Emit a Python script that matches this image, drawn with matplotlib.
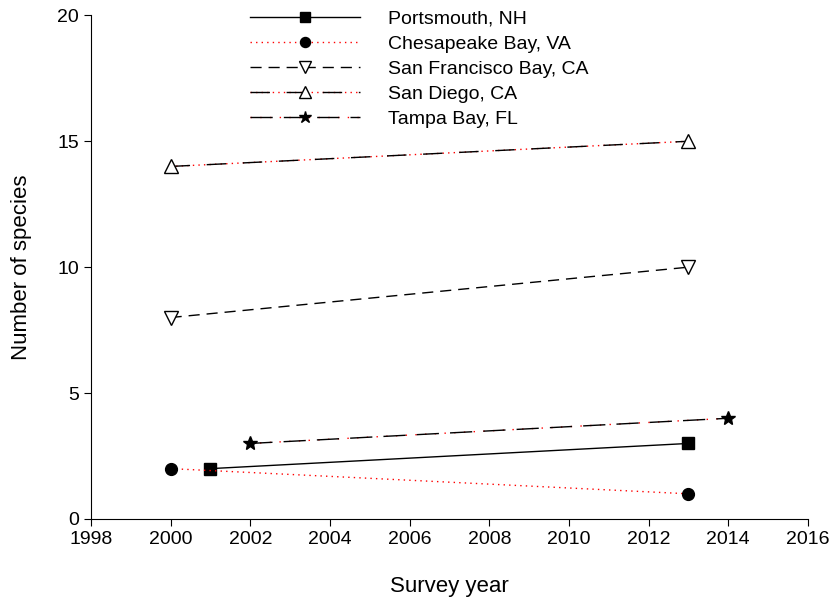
import matplotlib
matplotlib.use("Agg")
import matplotlib.pyplot as plt

plt.rcParams['font.family'] = ['Liberation Sans', 'DejaVu Sans']

portsmouth_years = [2001, 2013]
portsmouth_vals = [2, 3]
chesapeake_years = [2000, 2013]
chesapeake_vals = [2, 1]
sanfran_years = [2000, 2013]
sanfran_vals = [8, 10]
sandiego_years = [2000, 2013]
sandiego_vals = [14, 15]
tampa_years = [2002, 2014]
tampa_vals = [3, 4]

fig = plt.figure(figsize=(8.33, 6.09), dpi=100)
ax = fig.add_axes([0.1092, 0.1478, 0.8607, 0.827])

ms = 8.5
# Portsmouth: solid black, filled squares
h1, = ax.plot(portsmouth_years, portsmouth_vals, color='black', lw=1.0, marker='s',
              ms=ms, mfc='black', mec='black', zorder=3)
# Chesapeake: red dotted, filled circles
h2, = ax.plot(chesapeake_years, chesapeake_vals, color='red', lw=1.0, ls=(0, (1, 3)),
              marker='o', ms=ms, mfc='black', mec='black', zorder=3)
# San Francisco: dashed, open down triangles
h3, = ax.plot(sanfran_years, sanfran_vals, color='black', lw=1.0, ls=(0, (8, 5)),
              marker='v', ms=ms + 1, mfc='white', mec='black', zorder=3)
# San Diego: dash with red dots, open up triangles
h4a, = ax.plot(sandiego_years, sandiego_vals, color='red', lw=1.0, ls=(0, (1, 3)), zorder=2)
h4b, = ax.plot(sandiego_years, sandiego_vals, color='black', lw=1.0, ls=(0, (14, 12)),
               marker='^', ms=ms + 1, mfc='white', mec='black', zorder=3)
# Tampa: long dash with red dots, stars
h5a, = ax.plot(tampa_years, tampa_vals, color='red', lw=1.0, ls=(0, (1, 6)), zorder=2)
h5b, = ax.plot(tampa_years, tampa_vals, color='black', lw=1.0, ls=(0, (16, 8)),
               marker='*', ms=ms + 2, mfc='black', mec='black', zorder=3)

ax.set_xlim(1998, 2016)
ax.set_ylim(0, 20)
ax.set_xticks(range(1998, 2017, 2))
ax.set_yticks([0, 5, 10, 15, 20])
ax.spines['top'].set_visible(False)
ax.spines['right'].set_visible(False)
ax.tick_params(direction='out', length=5, labelsize=14)
ax.set_xlabel('Survey year', fontsize=16, labelpad=20)
ax.set_ylabel('Number of species', fontsize=16, labelpad=18)

handles = [h1, h2, h3, (h4a, h4b), (h5a, h5b)]
labels = ['Portsmouth, NH', 'Chesapeake Bay, VA', 'San Francisco Bay, CA',
          'San Diego, CA', 'Tampa Bay, FL']
ax.legend(handles, labels, loc='upper left', bbox_to_anchor=(0.222, 1.010),
          frameon=False, fontsize=14, handlelength=5.66, handletextpad=1.44,
          labelspacing=0.38, borderaxespad=0, borderpad=0, markerscale=0.85)

fig.savefig('out.png', dpi=100)
